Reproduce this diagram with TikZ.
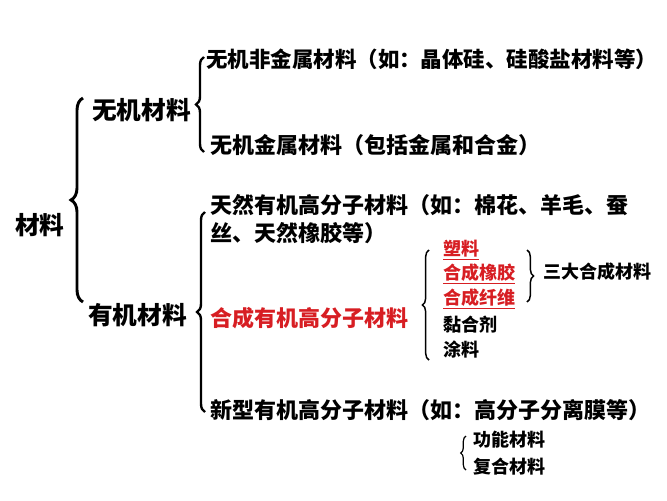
\documentclass[tikz,border=0pt]{standalone}
\usepackage{fontspec}
\setmainfont{Noto Sans CJK SC}
\usetikzlibrary{decorations.pathreplacing}
\definecolor{myred}{RGB}{215,30,35}
\begin{document}
\begin{tikzpicture}[x=0.75pt,y=-0.75pt,
  txt/.style={anchor=west,inner sep=0pt,font=\bfseries\fontsize{16.5}{21}\selectfont},
  big/.style={anchor=west,inner sep=0pt,font=\bfseries\fontsize{18.5}{22}\selectfont},
  sml/.style={anchor=west,inner sep=0pt,font=\bfseries\fontsize{13.5}{16}\selectfont},
  redt/.style={text=myred},
  bigbrace/.style={line width=2.2pt,decorate,decoration={brace,amplitude=9pt}},
  medbrace/.style={line width=1.8pt,decorate,decoration={brace,amplitude=6pt}},
  smlbrace/.style={line width=1.1pt,decorate,decoration={brace,amplitude=5pt}}]
\useasboundingbox (0,0) rectangle (667,500);
% root
\node[big] (root) at (15,225) {材料};
\coordinate (b1t) at (83,98);
\coordinate (b1b) at (83,302);
\draw[bigbrace] (b1b) -- (b1t);
\node[big] (inorg) at (92,110) {无机材料};
\node[big] (org) at (88,315) {有机材料};
% inorganic
\coordinate (b2t) at (204,57);
\coordinate (b2b) at (204,152);
\draw[medbrace] (b2b) -- (b2t);
\node[txt,font=\bfseries\fontsize{16.1}{21}\selectfont] (nonmet) at (206,59) {无机非金属材料（如：晶体硅、硅酸盐材料等）};
\node[txt] (met) at (210,145) {无机金属材料（包括金属和合金）};
% organic
\coordinate (b3t) at (205,212);
\coordinate (b3b) at (205,412);
\draw[medbrace] (b3b) -- (b3t);
\node[txt,align=left] (nat) at (210,219) {天然有机高分子材料（如：棉花、羊毛、蚕\\丝、天然橡胶等）};
\node[txt,redt] (syn) at (210,318) {合成有机高分子材料};
\node[txt] (new) at (210,410) {新型有机高分子材料（如：高分子分离膜等）};
% synthetic list
\coordinate (b4t) at (429,250);
\coordinate (b4b) at (429,360);
\draw[smlbrace] (b4b) -- (b4t);
\node[sml,redt] (s1) at (443,250) {\underline{塑料}};
\node[sml,redt] (s2) at (443,274) {\underline{合成橡胶}};
\node[sml,redt] (s3) at (443,299) {\underline{合成纤维}};
\node[sml] (s4) at (443,325) {黏合剂};
\node[sml] (s5) at (443,350) {涂料};
\coordinate (b5t) at (527,250);
\coordinate (b5b) at (527,302);
\draw[smlbrace] (b5t) -- (b5b);
\node[sml] (three) at (543,272) {三大合成材料};
% new materials
\coordinate (b6t) at (466,436);
\coordinate (b6b) at (466,470);
\draw[smlbrace,line width=0.9pt,decoration={brace,amplitude=4pt}] (b6b) -- (b6t);
\node[sml] (f1) at (473,440) {功能材料};
\node[sml] (f2) at (473,467) {复合材料};
\end{tikzpicture}
\end{document}
